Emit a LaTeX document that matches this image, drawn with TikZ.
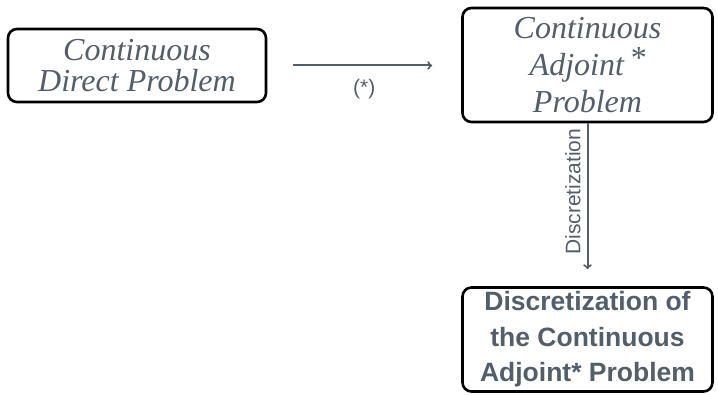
\documentclass[tikz,border=0pt]{standalone}
\usepackage{fontspec}
\setsansfont{Liberation Sans}
\newfontfamily\problemface{Liberation Serif}
\usetikzlibrary{arrows}
\definecolor{slate}{HTML}{535E6B}

\begin{document}
\begin{tikzpicture}[
		x=1pt, y=1pt,
		problem/.style={rectangle, rounded corners=9pt, draw=black, line width=2.6pt,
		text=slate, align=center, inner sep=0pt,
		font=\problemface\itshape\fontsize{32}{31}\selectfont},
		discrete/.style={problem, font=\sffamily\bfseries\fontsize{26.5}{35.5}\selectfont},
		link/.style={draw=slate, line width=2pt, ->},
		linklabel/.style={text=slate, font=\sffamily\fontsize{21}{24}\selectfont}
		]
		\useasboundingbox (0,0) rectangle (718,394);
		\node[problem, minimum width=258, minimum height=73] (direct) at (137,328.5)
			{Continuous\\Direct Problem};
		\node[problem, minimum width=250, minimum height=114, font=\problemface\itshape\fontsize{32}{37}\selectfont]
			(adjoint) at (587.5,329) {Continuous\\Adjoint\,\raisebox{7pt}{*}\\Problem};
		\node[discrete, minimum width=250, minimum height=104] (discrete) at (587.5,54.5)
			{Discretization of\\the Continuous\\Adjoint* Problem};
		\draw[link, shorten <=26pt, shorten >=29pt] (direct.east) -- (direct.east -| adjoint.west)
			node[linklabel, midway, below=9pt] {(*)};
		\draw[link, shorten >=17pt] (adjoint.south) -- (discrete.north)
			node[linklabel, pos=0.42, rotate=90, anchor=south, inner sep=6pt] {Discretization};
	\end{tikzpicture}
\end{document}
